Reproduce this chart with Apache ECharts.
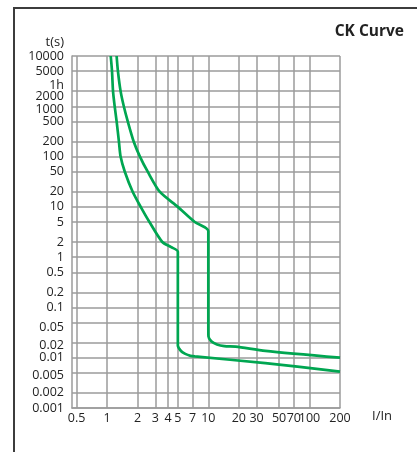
<!DOCTYPE html>
<html><head><meta charset="utf-8">
<script src="https://cdn.jsdelivr.net/npm/echarts@6/dist/echarts.min.js"></script>
<style>html,body{margin:0;padding:0;background:#fff}#c{width:417px;height:452px}</style>
</head><body><div id="c"></div>
<script>
// tick values (grid lines) and labels
const xTicks = [0.5, 1, 2, 3, 4, 5, 7, 10, 20, 30, 50, 70, 100, 200];
const yTicks = [0.001, 0.002, 0.005, 0.01, 0.02, 0.05, 0.1, 0.2, 0.5, 1, 2, 5, 10, 20, 50, 100, 200, 500, 1000, 2000, 5000, 10000];
const yLabelValues = [0.001, 0.002, 0.005, 0.01, 0.02, 0.05, 0.1, 0.2, 0.5, 1, 2, 5, 10, 20, 50, 100, 200, 500, 1000, 2000, 3600, 5000, 10000];
const yLabelTexts = ['0.001', '0.002', '0.005', '0.01', '0.02', '0.05', '0.1', '0.2', '0.5', '1', '2', '5', '10', '20', '50', '100', '200', '500', '1000', '2000', '1h', '5000', '10000'];

// lower (min) trip curve: multiples of In, time in s
const lowerI = [1.086, 1.118, 1.144, 1.188, 1.242, 1.308, 1.359, 1.496, 1.789, 2.148, 2.62, 3.51, 4.3, 5, 5, 5.37, 5.92, 6.67, 7.38, 36.6, 200];
const lowerT = [10000, 5000, 2000, 1000, 500, 200, 100, 50, 20, 10, 5, 2, 1.58, 1.28, 0.0175, 0.0136, 0.0119, 0.0109, 0.0106, 0.0078, 0.0053];
// upper (max) trip curve
const upperI = [1.242, 1.279, 1.359, 1.462, 1.6, 1.83, 2.11, 2.52, 3.31, 5, 7.35, 10, 10, 10.03, 10.7, 12.18, 14.4, 18.66, 36.6, 200];
const upperT = [10000, 5000, 2000, 1000, 500, 200, 100, 50, 20, 10, 5, 3.3, 0.0363, 0.0267, 0.0212, 0.0183, 0.017, 0.0166, 0.0137, 0.01];

const font = 'Open Sans';
const gridColor = '#9b9b9b';
const labelShift = { '1h': 's7', '2000': 's5', '1000': 's3', '0.05': 's5', '0.02': 's3', '0.005': 's3' };

function findLabel(v, vals, texts) {
  for (let i = 0; i < vals.length; i++) {
    if (Math.abs(Math.log10(v) - Math.log10(vals[i])) < 1e-6) return texts[i];
  }
  return String(v);
}

const chart = echarts.init(document.getElementById('c'));
chart.setOption({
  animation: false,
  backgroundColor: '#fff',
  title: {
    text: 'CK Curve', right: 13, top: 24, padding: 0,
    textStyle: { fontFamily: font, fontSize: 15.5, fontWeight: 'bold', color: '#222' }
  },
  graphic: [{
    type: 'polyline', silent: true,
    shape: { points: [[14, 452], [14, 8], [417, 8]] },
    style: { stroke: '#3c3c3c', lineWidth: 2, fill: null }
  }],
  grid: { left: 72, right: 77, top: 56, bottom: 44, containLabel: false, outerBoundsMode: 'none' },
  xAxis: {
    type: 'log', logBase: 10, min: 0.45, max: 200,
    name: 'I/In', nameLocation: 'end', nameGap: 32,
    nameTextStyle: { fontFamily: font, fontSize: 13, color: '#222', verticalAlign: 'top', padding: [2, 0, 0, 0] },
    axisLine: { lineStyle: { color: gridColor, width: 1.5 } },
    axisTick: { show: false, customValues: xTicks },
    minorTick: { show: false },
    splitLine: { show: true, lineStyle: { color: gridColor, width: 1.5 } },
    axisLabel: {
      customValues: xTicks, margin: 4, fontFamily: font, fontSize: 12.5, color: '#222',
      formatter: v => findLabel(v, xTicks, xTicks.map(String))
    }
  },
  yAxis: {
    type: 'log', logBase: 10, min: 0.001, max: 10000,
    name: 't(s)', nameLocation: 'end', nameGap: 7,
    nameTextStyle: { fontFamily: font, fontSize: 13, color: '#222', align: 'right', padding: [0, 8, 0, 0] },
    axisLine: { lineStyle: { color: gridColor, width: 1.5 } },
    axisTick: { show: false, customValues: yTicks },
    minorTick: { show: false },
    splitLine: { show: true, lineStyle: { color: gridColor, width: 1.5 } },
    axisLabel: {
      customValues: yLabelValues, margin: 8, fontFamily: font, fontSize: 12.5, color: '#222',
      formatter: v => {
        const t = findLabel(v, yLabelValues, yLabelTexts);
        const s = labelShift[t];
        return s ? '{' + s + '|' + t + '}' : t;
      },
      rich: {
        s3: { padding: [6, 0, 0, 0] },
        s5: { padding: [10, 0, 0, 0] },
        s7: { padding: [14, 0, 0, 0] }
      }
    }
  },
  series: [
    {
      type: 'line', name: 'lower', showSymbol: false, smooth: 0.25, clip: true,
      data: lowerI.map((x, i) => [x, lowerT[i]]),
      lineStyle: { color: '#00a651', width: 2.7 }
    },
    {
      type: 'line', name: 'upper', showSymbol: false, smooth: 0.25, clip: true,
      data: upperI.map((x, i) => [x, upperT[i]]),
      lineStyle: { color: '#00a651', width: 2.7 }
    }
  ]
});
</script>
</body></html>
